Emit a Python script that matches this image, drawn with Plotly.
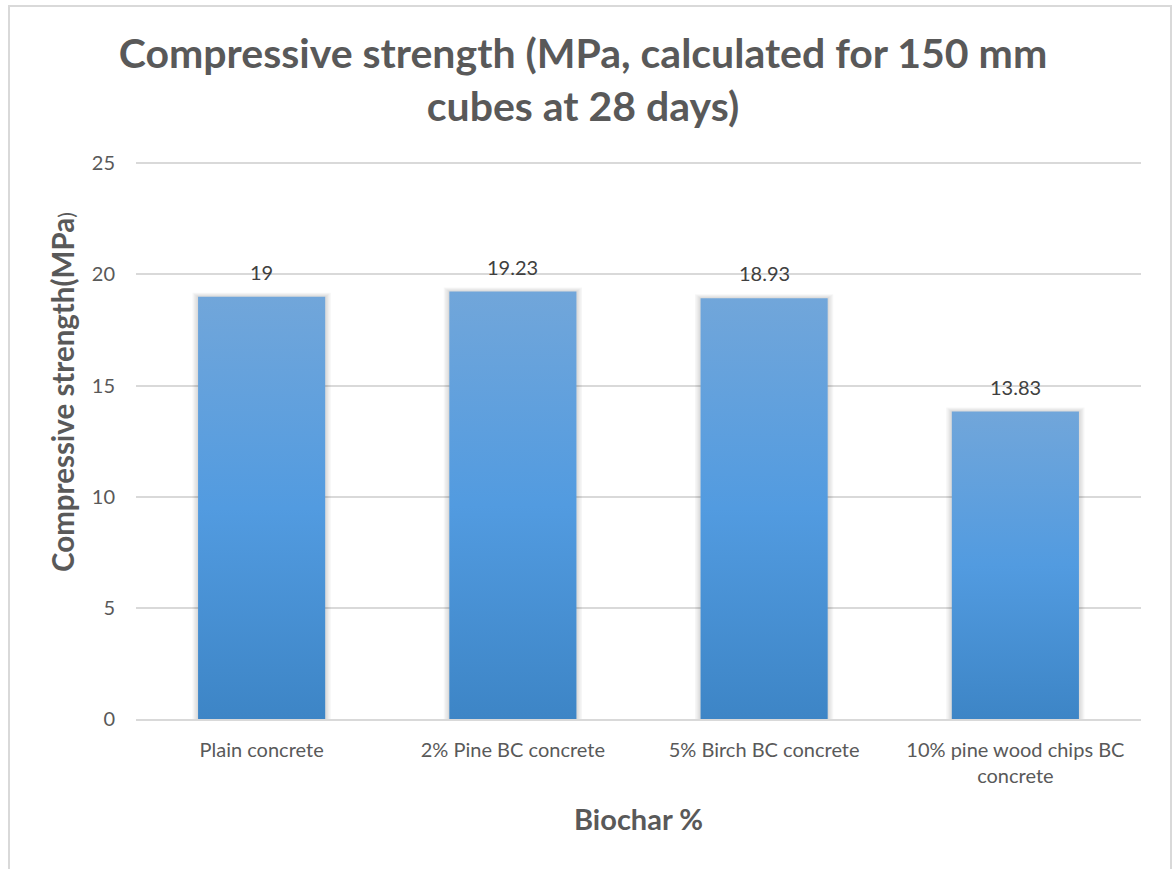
import plotly.graph_objects as go

# Compressive strength of biochar concretes (150 mm cubes, 28 days)
categories = ["Plain concrete", "2% Pine BC concrete", "5% Birch BC concrete",
              "10% pine wood chips BC<br>concrete"]
strength = [19, 19.23, 18.93, 13.83]
value_labels = ["19", "19.23", "18.93", "13.83"]
y_ticks = [0, 5, 10, 15, 20, 25]

TEXT = "#595959"
GRID = "#d9d9d9"
FONT = "Lato, Calibri, sans-serif"

W, H = 1173, 869
ML, MR, MT, MB = 136, 32, 160, 150
plot_w = W - ML - MR
plot_h = H - MT - MB
x_range = [-0.5, len(categories) - 0.5]
y_range = [0, 25.15]
px_x = (x_range[1] - x_range[0]) / plot_w   # data units per pixel
px_y = (y_range[1] - y_range[0]) / plot_h
half = 0.253                                  # half bar width (category units)

fig = go.Figure()

# soft drop shadow behind each bar
for i, v in enumerate(strength):
    for k in range(1, 5):
        gx = k * 1.4 * px_x
        gy = k * 1.0 * px_y
        fig.add_trace(go.Scatter(
            x=[i - half - gx, i + half + gx, i + half + gx, i - half - gx, i - half - gx],
            y=[0, 0, v + gy, v + gy, 0],
            fill="toself", fillcolor="rgba(0,0,0,0.035)",
            mode="lines", line=dict(width=0),
            hoverinfo="skip", showlegend=False))

# bars with a vertical gradient fill
for i, v in enumerate(strength):
    fig.add_trace(go.Scatter(
        x=[i - half, i + half, i + half, i - half, i - half],
        y=[0, 0, v, v, 0],
        fill="toself", mode="lines", line=dict(width=0),
        fillgradient=dict(type="vertical",
                          colorscale=[[0, "#3d85c6"], [0.5, "#529be0"], [1, "#71a6da"]]),
        name=categories[i].replace("<br>", " "),
        hovertemplate="%{fullData.name}: " + value_labels[i] + "<extra></extra>",
        showlegend=False))

# value labels above the bars
for i, (v, lab) in enumerate(zip(strength, value_labels)):
    fig.add_annotation(x=i, y=v, text=lab, showarrow=False,
                       yanchor="bottom", yshift=11,
                       font=dict(family=FONT, size=20, color="#404040"))

# y-axis title
fig.add_annotation(xref="paper", yref="paper",
                   x=(62 - ML) / plot_w, y=(H - MB - 392) / plot_h,
                   xanchor="center", yanchor="middle", textangle=-90, showarrow=False,
                   text="<b>Compressive strength(MPa</b><span style='font-size:21px'>)</span>",
                   font=dict(family=FONT, size=29.5, color=TEXT))

# chart frame
fig.add_shape(type="rect", xref="paper", yref="paper",
              x0=(9 - ML) / plot_w, x1=(1171 - ML) / plot_w,
              y0=(H - MB - 880) / plot_h, y1=(H - MB - 6) / plot_h,
              line=dict(color=GRID, width=2), fillcolor="rgba(0,0,0,0)", layer="below")

fig.update_layout(
    width=W, height=H,
    margin=dict(l=ML, r=MR, t=MT, b=MB),
    paper_bgcolor="white", plot_bgcolor="white",
    title=dict(text="<b>Compressive strength (MPa, calculated for 150 mm<br>cubes at 28 days)</b>",
               x=0.497, xanchor="center", y=0.922, yanchor="middle",
               font=dict(family=FONT, size=41, color=TEXT)),
    xaxis=dict(range=x_range, tickmode="array", tickvals=list(range(len(categories))),
               ticktext=categories, showgrid=False, zeroline=False,
               showline=True, linecolor=GRID, linewidth=1.5, ticks="",
               ticklabelstandoff=12,
               tickfont=dict(family=FONT, size=20, color=TEXT),
               title=dict(text="<b>Biochar %</b>", standoff=24,
                          font=dict(family=FONT, size=29, color=TEXT))),
    yaxis=dict(range=y_range, tickmode="array", tickvals=y_ticks,
               showgrid=True, gridcolor=GRID, gridwidth=1.5, zeroline=False,
               showline=False, ticks="", ticklabelstandoff=20,
               tickfont=dict(family=FONT, size=20, color=TEXT)),
)

fig.write_html("out.html")
